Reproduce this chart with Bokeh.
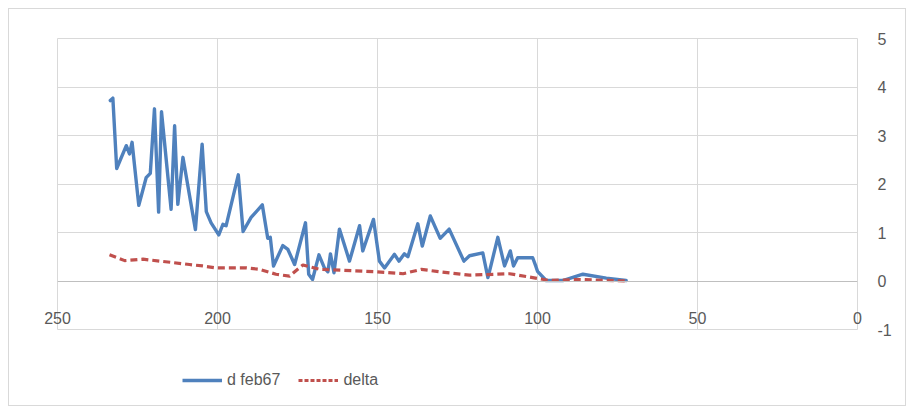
from bokeh.plotting import figure
from bokeh.layouts import column
from bokeh.models import Range1d, LinearAxis, FixedTicker, Legend, LegendItem
from bokeh.embed import file_html
from bokeh.resources import INLINE

# ---- data ----
feb67_x = [233.5, 232.7, 231.5, 228.5, 227.5, 226.7, 224.6, 222.3, 221.0, 219.7,
           218.4, 217.5, 214.5, 213.4, 212.4, 210.8, 206.9, 204.8, 203.5, 202.0,
           199.6, 198.3, 197.3, 193.5, 192.0, 189.5, 186.0, 184.3, 183.5, 182.5,
           179.6, 178.0, 175.9, 172.5, 171.5, 170.3, 168.3, 166.6, 165.5, 164.7,
           163.6, 161.9, 158.75, 155.6, 154.6, 151.25, 149.4, 147.8, 144.7, 143.3,
           141.6, 140.5, 137.4, 136.0, 133.5, 130.4, 127.6, 123.0, 121.25, 117.1,
           115.5, 115.0, 112.4, 110.3, 108.5, 107.5, 106.2, 101.5, 100.5, 100.0,
           97.3, 92.1, 85.8, 78.5, 72.3]
feb67_y = [3.72, 3.77, 2.32, 2.79, 2.62, 2.86, 1.56, 2.13, 2.22, 3.55,
           1.42, 3.49, 1.48, 3.20, 1.58, 2.55, 1.06, 2.82, 1.43, 1.20,
           0.95, 1.17, 1.14, 2.19, 1.02, 1.31, 1.57, 0.88, 0.90, 0.31,
           0.73, 0.65, 0.34, 1.20, 0.14, 0.03, 0.54, 0.27, 0.19, 0.56,
           0.17, 1.07, 0.41, 1.14, 0.62, 1.27, 0.41, 0.27, 0.55, 0.41,
           0.56, 0.50, 1.18, 0.72, 1.34, 0.88, 1.07, 0.41, 0.52, 0.58,
           0.07, 0.20, 0.90, 0.31, 0.62, 0.31, 0.48, 0.48, 0.30, 0.20,
           0.01, 0.01, 0.14, 0.06, 0.01]

delta_x = [233.75, 229.0, 223.3, 214.0, 208.75, 204.6, 200.4, 196.25, 191.0, 186.9,
           181.7, 177.5, 173.3, 168.1, 160.8, 150.4, 142.0, 136.3, 130.6, 121.25,
           108.75, 101.5, 96.25, 87.0, 72.3]
delta_y = [0.54, 0.42, 0.45, 0.38, 0.34, 0.31, 0.27, 0.27, 0.27, 0.24,
           0.14, 0.10, 0.33, 0.24, 0.22, 0.19, 0.15, 0.24, 0.19, 0.12,
           0.15, 0.07, 0.01, 0.03, 0.00]

x_ticks = [250, 200, 150, 100, 50, 0]
y_ticks = [-1, 0, 1, 2, 3, 4, 5]
y_tick_labels = {t: str(t) for t in y_ticks}
series_names = ["d feb67", "delta"]

FONT = "Liberation Sans"
TXT = "#595959"
GRID = "#d9d9d9"
BLUE = "#4f81bd"
RED = "#c0504d"

p = figure(width=896, height=330, output_backend="svg", toolbar_location=None,
           x_range=Range1d(250, 0), y_range=Range1d(-1, 5),
           y_axis_location="right",
           min_border_left=48, min_border_top=29, min_border_right=48,
           min_border_bottom=10, outline_line_color=GRID)

p.xgrid.ticker = FixedTicker(ticks=x_ticks)
p.ygrid.ticker = FixedTicker(ticks=y_ticks)
p.xgrid.grid_line_color = GRID
p.ygrid.grid_line_color = GRID

ya = p.yaxis[0]
ya.ticker = FixedTicker(ticks=y_ticks)
ya.major_label_overrides = y_tick_labels
ya.axis_line_color = None
ya.major_tick_line_color = None
ya.minor_tick_line_color = None
ya.major_label_text_font = FONT
ya.major_label_text_font_size = "16px"
ya.major_label_text_color = TXT
ya.major_label_standoff = 14

# x tick labels: bottom axis, labels pulled up between the 0 and -1 gridlines
xa = p.xaxis[0]
xa.ticker = FixedTicker(ticks=x_ticks)
xa.axis_line_color = None
xa.major_tick_line_color = None
xa.minor_tick_line_color = None
xa.major_label_text_font = FONT
xa.major_label_text_font_size = "16px"
xa.major_label_text_color = TXT
xa.major_label_standoff = -24

# horizontal axis line crossing at y = 0
x0 = LinearAxis(fixed_location=0, ticker=FixedTicker(ticks=[]))
x0.axis_line_color = "#bfbfbf"
x0.major_tick_line_color = None
x0.minor_tick_line_color = None
p.add_layout(x0, "below")

p.line(feb67_x, feb67_y, line_color=BLUE, line_width=3.4,
       line_join="round", line_cap="round")
p.line(delta_x, delta_y, line_color=RED, line_width=3.2,
       line_dash="7 4", line_join="round")

# legend strip below the chart (its lines lie outside its visible range)
lg = figure(width=896, height=66, output_backend="svg", toolbar_location=None,
            x_range=Range1d(250, 0), y_range=Range1d(100, 101),
            x_axis_location=None, y_axis_location=None,
            min_border_left=0, min_border_right=0, min_border_top=0,
            min_border_bottom=0, outline_line_color=None)
lg.grid.visible = False
k1 = lg.line(feb67_x, feb67_y, line_color=BLUE, line_width=3.4)
k2 = lg.line(delta_x, delta_y, line_color=RED, line_width=3.2, line_dash="4 2")
legend = Legend(items=[LegendItem(label=series_names[0], renderers=[k1]),
                       LegendItem(label=series_names[1], renderers=[k2])],
                orientation="horizontal", location=(125, 15),
                border_line_color=None, background_fill_alpha=0,
                label_text_font=FONT, label_text_font_size="16px",
                label_text_color=TXT, glyph_width=40, glyph_height=20,
                padding=0, spacing=18, label_standoff=5, margin=0)
lg.add_layout(legend, "center")

page = column(p, lg, spacing=0,
              styles={"margin-left": "8px", "margin-top": "8px",
                      "border": "1px solid #d9d9d9"})

open("out.html", "w").write(file_html(page, INLINE))
